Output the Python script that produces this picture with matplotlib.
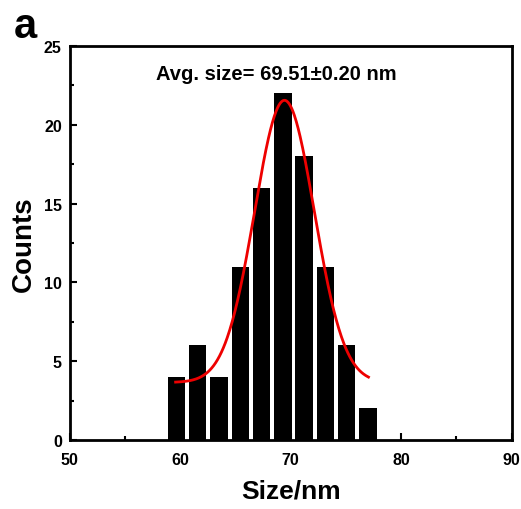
import numpy as np
import matplotlib.pyplot as plt
from matplotlib.ticker import MultipleLocator

plt.rcParams['font.family'] = ['Liberation Sans', 'DejaVu Sans']
plt.rcParams['font.weight'] = 'bold'

# histogram data
bin_centers = [59.67, 61.60, 63.52, 65.45, 67.37, 69.30, 71.23, 73.15, 75.08, 77.00]
counts = [4, 6, 4, 11, 16, 22, 18, 11, 6, 2]

# gaussian fit parameters
fit_y0 = 3.65
fit_amp = 17.9
fit_xc = 69.45
fit_w = 2.7
fit_range = [59.6, 77.05]

fig = plt.figure(figsize=(5.21, 5.10), dpi=100)
ax = fig.add_axes([0.1334, 0.1353, 0.8486, 0.7727])

ax.bar(bin_centers, counts, width=1.57, color='black', zorder=2)

xs = np.linspace(fit_range[0], fit_range[1], 300)
ys = fit_y0 + fit_amp * np.exp(-(xs - fit_xc) ** 2 / (2 * fit_w ** 2))
ax.plot(xs, ys, color='#ee0000', lw=2, zorder=3)

ax.set_xlim(50, 90)
ax.set_ylim(0, 25)
ax.xaxis.set_major_locator(MultipleLocator(10))
ax.xaxis.set_minor_locator(MultipleLocator(5))
ax.yaxis.set_major_locator(MultipleLocator(5))
ax.yaxis.set_minor_locator(MultipleLocator(2.5))
ax.tick_params(which='both', direction='in', width=1.5, labelsize=11.5)
ax.tick_params(which='major', length=5)
ax.tick_params(which='minor', length=3)
ax.tick_params(axis='x', which='major', pad=9)
ax.tick_params(axis='y', which='major', pad=5.5)
for lab in ax.get_xticklabels() + ax.get_yticklabels():
    lab.set_fontweight('bold')
for s in ax.spines.values():
    s.set_linewidth(2)

ax.set_xlabel('Size/nm', fontsize=19, fontweight='bold', labelpad=8)
ax.set_ylabel('Counts', fontsize=20, fontweight='bold', labelpad=5)

ax.text(0.467, 0.929, 'Avg. size= 69.51\u00b10.20 nm', transform=ax.transAxes,
        ha='center', va='center', fontsize=14.5, fontweight='bold')
fig.text(0.026, 0.948, 'a', fontsize=30, fontweight='bold', va='center')

fig.savefig('out.png', dpi=100)
